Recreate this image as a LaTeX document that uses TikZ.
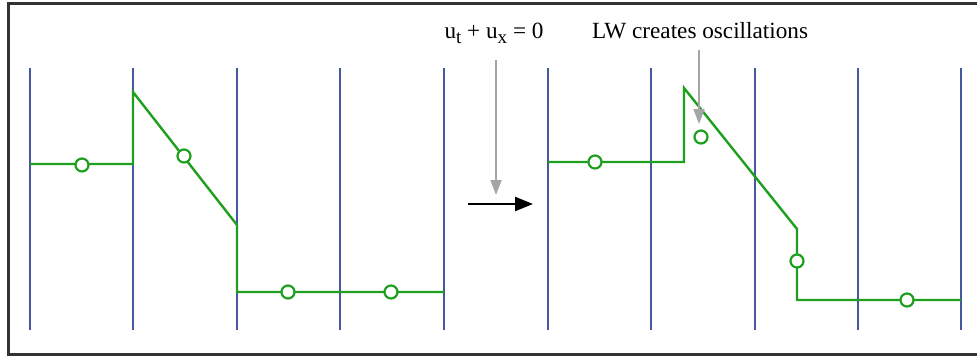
\documentclass[tikz,border=0pt]{standalone}
\usepackage{fontspec}
\setmainfont{Liberation Serif}
\usetikzlibrary{arrows.meta}
\definecolor{gridblue}{RGB}{70,88,160}
\definecolor{solgreen}{RGB}{30,160,30}
\definecolor{hintgray}{RGB}{165,165,165}
\newcommand{\lowsub}[1]{\raisebox{-0.45ex}{\fontsize{9.5}{10}\selectfont #1}}
\tikzset{
  cell/.style={gridblue, line width=1pt},
  sol/.style={solgreen, line width=1.2pt, line join=miter},
  avg/.style={circle, draw=solgreen, fill=white, line width=1.1pt, minimum size=6.5pt, inner sep=0pt},
  hint/.style={hintgray, line width=0.9pt, -{Triangle[length=7.5pt,width=5.5pt]}},
  lbl/.style={font=\fontsize{11.6}{13}\selectfont, inner sep=1pt}
}
\begin{document}
\begin{tikzpicture}[x=0.5pt,y=-0.5pt]
\useasboundingbox (0,0) rectangle (977,358);
\draw[black!80, line width=1.5pt] (977,4) -- (8,4) -- (8,354) -- (977,354);

% cell boundaries
\foreach \x in {30,133,237,340,444,548,651,755,858,961} {\draw[cell] (\x,68) -- (\x,330);}

% initial data
\draw[sol] (30,164) -- (133,164) -- (133,92) -- (237,225) -- (237,292) -- (444,292);
\node[avg] (a1) at (82,165) {};
\node[avg] (a2) at (184,156) {};
\node[avg] (a3) at (288,292) {};
\node[avg] (a4) at (391,292) {};

% after one LW step
\draw[sol] (548,162) -- (684,162) -- (684,88) -- (797,229) -- (797,300) -- (961,300);
\node[avg] (b1) at (595,162) {};
\node[avg] (b2) at (701,137) {};
\node[avg] (b3) at (797,261) {};
\node[avg] (b4) at (907,300) {};

% labels
\node[lbl] (eq) at (494,33) {u\lowsub{t} + u\lowsub{x} = 0};
\node[lbl] (lw) at (700,31) {LW creates oscillations};
\coordinate (eqtip) at (496,195);
\coordinate (lwtip) at (699,124);
\draw[hint] (eq.south -| eqtip) ++(0,14) -- (eqtip);
\draw[hint, shorten <=4pt] (lw.south -| lwtip) -- (lwtip);

% time step
\coordinate (stepL) at (468,204);
\coordinate (stepR) at (533,204);
\draw[black, line width=1.2pt, -{Triangle[length=9pt,width=7pt]}] (stepL) -- (stepR);
\end{tikzpicture}
\end{document}
